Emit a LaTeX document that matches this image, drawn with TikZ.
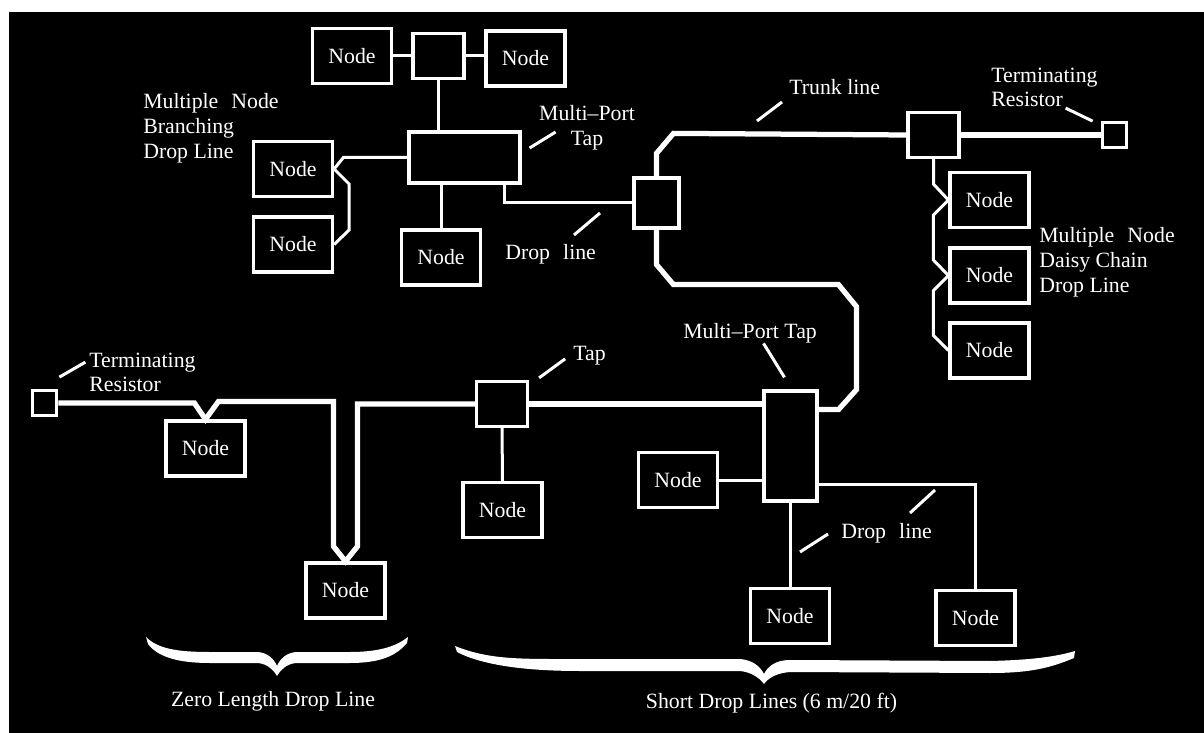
\documentclass[tikz,border=0pt]{standalone}
\usepackage{fontspec}
\setmainfont{Liberation Serif}
\usetikzlibrary{calc}
\tikzset{
  unit/.style={draw=white, line width=0.065cm, fill=black, text=white,
    minimum width=1.58cm, minimum height=1.1cm, inner sep=0pt},
  tap/.style={draw=white, line width=0.065cm, fill=black,
    minimum width=1.02cm, minimum height=0.9cm, inner sep=0pt},
  trunk/.style={white, line width=0.105cm},
  drop/.style={white, line width=0.06cm},
  lead/.style={white, line width=0.06cm},
  lbl/.style={text=white, inner sep=0pt},
}

\begin{document}
\begin{tikzpicture}[x=0.02cm, y=-0.02cm, font=\fontsize{12.4}{14}\selectfont]
  \useasboundingbox (0,0) rectangle (1204,733);
  \fill[white] (0,0) rectangle (1204,733);
  \fill[black] (9,12) rectangle (1204,733);

  % branching drop line, top left
  \node[unit] (nTL) at (352,56) {Node};
  \node[tap] (tpTop) at (438.5,56) {};
  \node[unit] (nTR) at (525.5,58.5) {Node};
  \node[tap, minimum width=2.22cm, minimum height=1.02cm] (mpt) at (464.5,157.5) {};
  \node[unit] (nB1) at (293,169) {Node};
  \node[unit] (nB2) at (293,244.5) {Node};
  \node[unit] (nMB) at (441,257.5) {Node};

  % taps on the trunk, daisy chain
  \node[tap, minimum width=0.9cm, minimum height=1cm] (t1) at (656.5,203) {};
  \node[tap] (tt2) at (933.5,135) {};
  \node[tap, minimum size=0.49cm] (rR) at (1114.5,135) {};
  \node[unit] (d1) at (989.5,200) {Node};
  \node[unit] (d2) at (989.5,275.5) {Node};
  \node[unit] (d3) at (989.5,350.5) {Node};

  % lower trunk
  \node[tap, minimum size=0.49cm] (rL) at (44.5,403) {};
  \node[unit] (z1) at (205.5,448.5) {Node};
  \node[unit] (z2) at (345.5,590.5) {Node};
  \node[tap] (t3) at (502,404) {};
  \node[unit] (t3n) at (502.5,510) {Node};
  \node[tap, minimum width=1.06cm, minimum height=2.2cm] (mpt2) at (790.5,446) {};
  \node[unit] (nML) at (678,480) {Node};
  \node[unit] (nMB2) at (790,616) {Node};
  \node[unit] (nR) at (975.5,618) {Node};

  % drop lines
  \draw[drop] (nTL) -- (tpTop);
  \draw[drop] (tpTop.east) -- (tpTop.east -| nTR.west);
  \draw[drop] (tpTop.south) -- (tpTop.south |- mpt.north);
  \draw[drop] (nMB.north |- mpt.south) -- (nMB.north);
  \draw[drop] (mpt.west) -- ++(-64,0) -- (nB1.east) -- ++(15,15) -- ++(0,46) -- (nB2.east);
  \draw[drop] ($(mpt.south east)+(-17,0)$) |- (t1.west);
  \draw[drop] (tt2.south) -- ++(0,25) -- (d1.west) -- ++(-15,15) -- ++(0,45)
    -- (d2.west) -- ++(-15,15) -- ++(0,45) -- (d3.west);
  \draw[drop] (t3.south) -- (t3n.north);
  \draw[drop] (nML.east) -- (nML.east -| mpt2.west);
  \draw[drop] (nMB2.north |- mpt2.south) -- (nMB2.north);
  \draw[drop] ($(mpt2.south east)+(0,-18)$) -| (nR.north);

  % trunk line
  \draw[trunk] (t1.north) -- ++(0,-23) -- ++(17,-20) -- (tt2.west);
  \draw[trunk] (tt2.east) -- (rR.west);
  \draw[trunk] (t1.south) -- ++(0,35) -- ++(17,20) -- ++(165,0) -- ++(18,22)
    -- ++(0,83) -- ++(-18,20) coordinate (tk) -- (tk -| mpt2.east);
  \draw[trunk] (rL.east) -- ++(136,0) -- (z1.north) -- ++(13,-18) -- ++(115,0)
    -- ++(0,145) -- (z2.north) -- ++(12,-15) |- (t3.west);
  \draw[trunk] (t3.east) -- (t3.east -| mpt2.west);

  % labels
  \node[lbl, anchor=north west, align=left] (lbBranch) at (143,93.5)
    {Multiple\hspace{.6em}Node\\Branching\\Drop Line};
  \node[lbl, anchor=north, align=center] (lbMpt) at (587,105.5) {Multi--Port\\Tap};
  \node[lbl, anchor=base west] (lbDrop1) at (505,260) {Drop\hspace{.6em}line};
  \node[lbl, anchor=base west] (lbTrunk) at (789,95) {Trunk line};
  \node[lbl, anchor=north west, align=left] (lbTermR) at (991,67.5) {Terminating\\Resistor};
  \node[lbl, anchor=north west, align=left] (lbDaisy) at (1039,227.5)
    {Multiple\hspace{.6em}Node\\Daisy Chain\\Drop Line};
  \node[lbl, anchor=north west, align=left] (lbTermL) at (89,352.5) {Terminating\\Resistor};
  \node[lbl, anchor=base west] (lbTap) at (573,360) {Tap};
  \node[lbl, anchor=base west] (lbMpt2) at (683,338) {Multi--Port Tap};
  \node[lbl, anchor=base west] (lbDrop2) at (841,538) {Drop\hspace{.6em}line};
  \node[lbl, anchor=base] (lbZero) at (273,706) {Zero Length Drop Line};
  \node[lbl, anchor=base] (lbShort) at (771.5,708) {Short Drop Lines (6 m/20 ft)};

  % leader strokes
  \draw[lead] ($(mpt.east)+(8,-9.5)$) -- ++(26,-16);
  \draw[lead] ($(lbDrop1.base west)+(69,-25)$) -- ++(26,-22);
  \draw[lead] ($(lbTrunk.base west)+(-32,26)$) -- ++(25,-19);
  \draw[lead] ($(rR.north west)+(-8,0)$) -- ++(-27,-13);
  \draw[lead] ($(rL.north east)+(1,-12)$) -- ++(26,-15);
  \draw[lead] ($(t3.north east)+(10,-2)$) -- ++(26,-19);
  \draw[lead] ($(mpt2.north)+(-6,-12)$) -- ++(-21,-34);
  \draw[lead] ($(lbDrop2.base west)+(69,-25)$) -- ++(25,-23);
  \draw[lead] ($(lbDrop2.base west)+(-41,14)$) -- ++(28,-18);

  % braces
  \fill[white] (146,637) .. controls (158,649) and (178,652) .. (210,652) -- (258,652)
    .. controls (268,653) and (274,659) .. (277,666) .. controls (280,659) and (286,653) .. (296,652)
    -- (350,652) .. controls (382,652) and (398,645) .. (408,637) -- (407,643)
    .. controls (396,656) and (380,663) .. (350,663) -- (296,663)
    .. controls (287,664) and (281,669) .. (277,676) .. controls (273,669) and (267,664) .. (258,663)
    -- (210,663) .. controls (178,663) and (158,657) .. (148,644) -- cycle;
  \fill[white] (455,646) .. controls (490,660) and (520,659) .. (580,659) -- (740,659)
    .. controls (752,660) and (760,666) .. (764,674) .. controls (768,666) and (776,660) .. (790,660)
    -- (990,661) .. controls (1030,660) and (1055,657) .. (1075,651) -- (1074,658)
    .. controls (1050,668) and (1030,673) .. (990,673) -- (790,672)
    .. controls (778,673) and (769,677) .. (764,684) .. controls (759,677) and (750,672) .. (740,671)
    -- (580,671) .. controls (520,671) and (480,664) .. (457,652) -- cycle;
\end{tikzpicture}
\end{document}
